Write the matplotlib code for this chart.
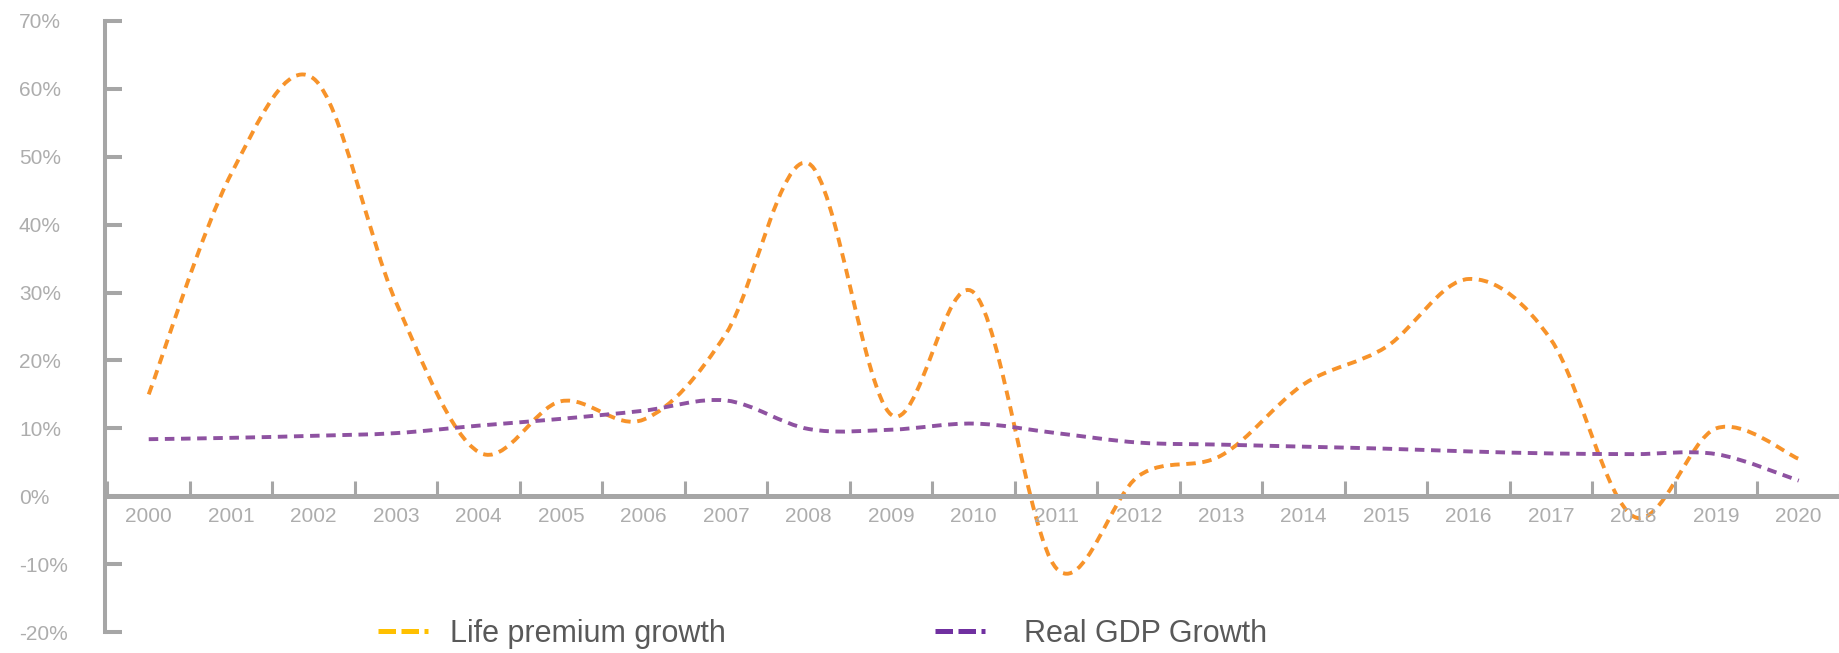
import matplotlib
matplotlib.use("Agg")
import matplotlib.pyplot as plt
import numpy as np
from matplotlib.path import Path
from matplotlib.patches import PathPatch
from matplotlib.lines import Line2D

plt.rcParams['font.family'] = ['Liberation Sans', 'DejaVu Sans']

### Data
years = [str(y) for y in range(2000, 2021)]
life_premium = [15, 47.5, 61.5, 28.5, 6.5, 14, 11.3, 24, 49, 12, 30, -10.6,
                3, 6, 16.5, 22, 32, 23, -3, 10, 5.5]
real_gdp = [8.4, 8.6, 8.9, 9.3, 10.4, 11.4, 12.6, 14.1, 9.9, 9.8, 10.7, 9.3,
            7.9, 7.6, 7.3, 7.0, 6.6, 6.3, 6.2, 6.2, 2.3]
y_ticks = [-20, -10, 0, 10, 20, 30, 40, 50, 60, 70]
series_names = ['Life premium growth', 'Real GDP Growth']

### Styles
grey = '#a6a6a6'
label_grey = '#adadad'
line_cols = ['#F7932A', '#8E52A1']
legend_cols = ['#FFC000', '#7030A0']


def smooth_path(xs, ys):
    # excel-ish smoothed line: cubic bezier through each point (catmull-rom style)
    p = np.column_stack([xs, ys]).astype(float)
    n = len(p)
    verts = [p[0]]
    codes = [Path.MOVETO]
    for i in range(n - 1):
        pm = p[max(i - 1, 0)]
        pn = p[min(i + 2, n - 1)]
        c1 = p[i] + (p[i + 1] - pm) / 6
        c2 = p[i + 1] - (pn - p[i]) / 6
        verts += [c1, c2, p[i + 1]]
        codes += [Path.CURVE4] * 3
    return Path(verts, codes)


fig = plt.figure(figsize=(18.4, 6.53), dpi=100)
ax = fig.add_axes([105 / 1840, 21 / 653, 1735 / 1840, 611 / 653])

x = np.arange(len(years))
for vals, col in zip([life_premium, real_gdp], line_cols):
    patch = PathPatch(smooth_path(x, vals), fill=False, edgecolor=col, lw=2.8,
                      linestyle=(0, (2.45, 1.7)), capstyle='butt')
    ax.add_patch(patch)

ax.set_xlim(-0.53, 20.5)
ax.set_ylim(-20, 70)

# spines
for s in ['top', 'right']:
    ax.spines[s].set_visible(False)
ax.spines['left'].set_color(grey)
ax.spines['left'].set_linewidth(2.9)
ax.spines['bottom'].set_position(('data', 0))
ax.spines['bottom'].set_color(grey)
ax.spines['bottom'].set_linewidth(3.6)

# y ticks
ax.set_yticks(y_ticks)
ax.set_yticklabels([f'{v}%' for v in y_ticks])
ax.tick_params(axis='y', direction='in', length=12.5, width=2.9, color=grey,
               pad=62, labelsize=15, labelcolor=label_grey)
for lab in ax.get_yticklabels():
    lab.set_horizontalalignment('left')

# x ticks: marks between categories, labels at categories
ax.set_xticks(np.arange(-0.5, len(years), 1.0))
ax.set_xticklabels([])
ax.set_xticks(x, minor=True)
ax.set_xticklabels(years, minor=True)
ax.tick_params(axis='x', which='major', direction='in', length=11, width=2.2, color=grey)
ax.tick_params(axis='x', which='minor', length=0, pad=8, labelsize=15, labelcolor=label_grey)

# legend (two single entries, spacing differs in reference)
h1 = Line2D([], [], color=legend_cols[0], lw=3.6, linestyle=(0, (3.5, 1.1)), dash_capstyle='butt')
h2 = Line2D([], [], color=legend_cols[1], lw=3.6, linestyle=(0, (3.5, 1.1)), dash_capstyle='butt')
leg1 = fig.legend([h1], [series_names[0]], loc='center left', bbox_to_anchor=(378 / 1840, 1 - 634 / 653),
                  frameon=False, fontsize=22, handlelength=1.65, handletextpad=0.7,
                  borderpad=0, borderaxespad=0, labelcolor='#595959')
leg2 = fig.legend([h2], [series_names[1]], loc='center left', bbox_to_anchor=(935 / 1840, 1 - 634 / 653),
                  frameon=False, fontsize=22, handlelength=1.65, handletextpad=1.25,
                  borderpad=0, borderaxespad=0, labelcolor='#595959')

fig.savefig('out.png', dpi=100)
